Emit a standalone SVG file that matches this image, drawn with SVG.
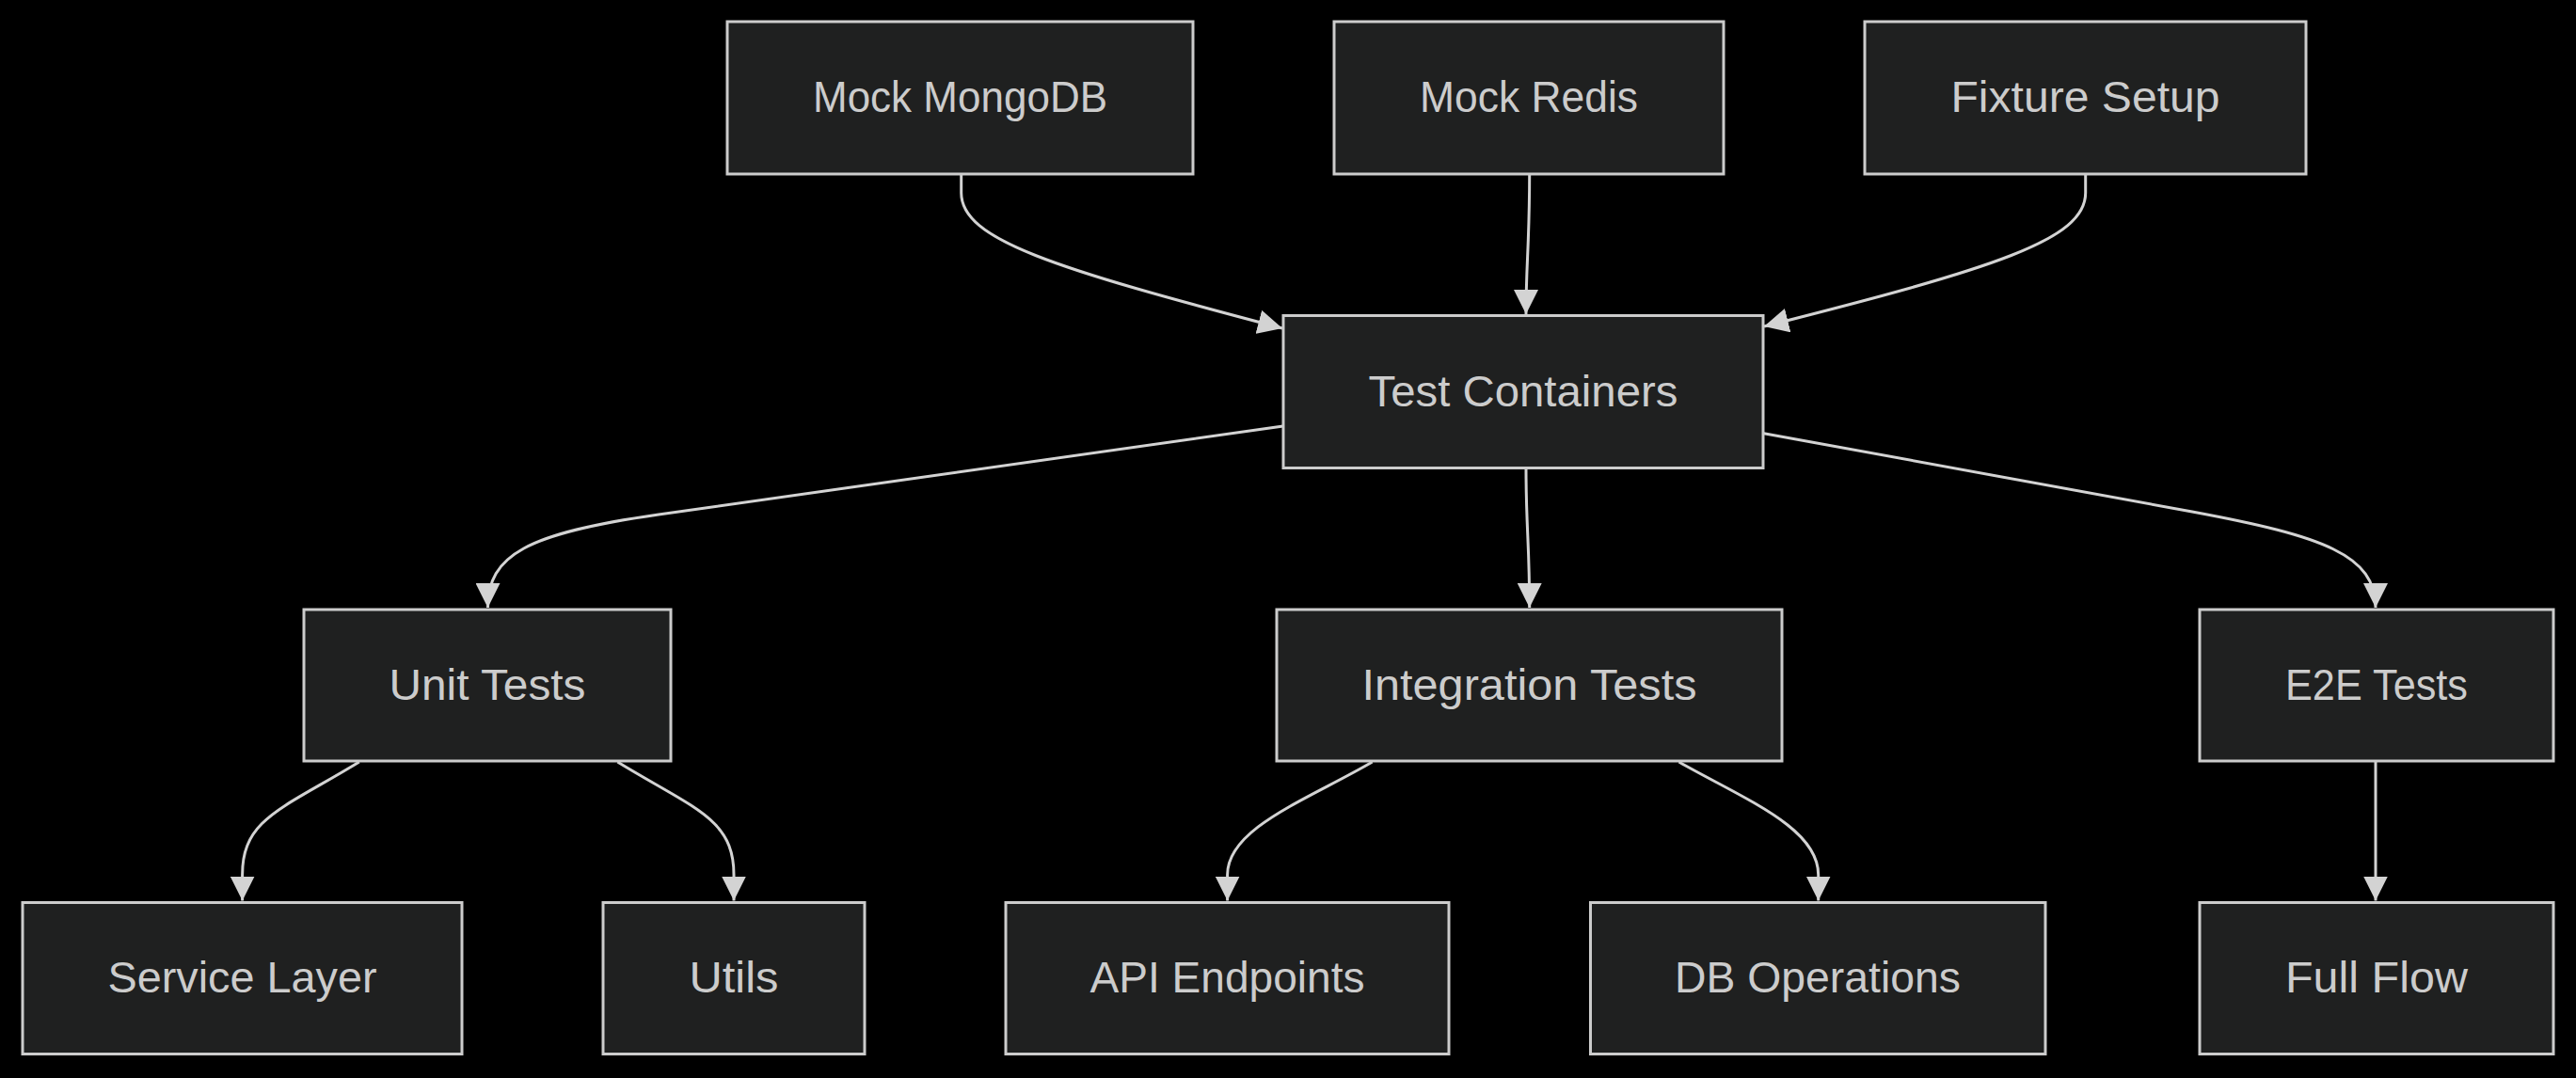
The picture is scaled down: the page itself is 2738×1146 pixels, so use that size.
<svg xmlns="http://www.w3.org/2000/svg" width="2738" height="1146" viewBox="0 0 2738 1146">
<style>
.bg{fill:#000000}
.node rect{fill:#1f2020;stroke:#cccccc;stroke-width:3}
.node text{fill:#cccccc;font-family:"Liberation Sans",Arial,sans-serif;font-size:46px;text-anchor:middle}
.edge{fill:none;stroke:#d3d3d3;stroke-width:3}
</style>
<defs>
<marker id="arrow" markerUnits="userSpaceOnUse" markerWidth="26" markerHeight="26" viewBox="0 0 10 10" refX="10" refY="5" orient="auto">
<path d="M0,0 L10,5 L0,10 z" fill="#d3d3d3"/>
</marker>
</defs>
<rect class="bg" x="0" y="0" width="2738" height="1146"/>
<g id="connectors">
<path class="edge" marker-end="url(#arrow)" d="M1021.7,185 L1021.7,205 C1021.7,255 1120,285 1363,349"/>
<path class="edge" marker-end="url(#arrow)" d="M1625.7,185 C1625.7,260 1622,280 1622,334"/>
<path class="edge" marker-end="url(#arrow)" d="M2216.7,185 L2216.7,205 C2216.7,255 2120,285 1875,347"/>
<path class="edge" marker-end="url(#arrow)" d="M1363.8,453 L700,547 C560,567 518.5,590 518.5,646"/>
<path class="edge" marker-end="url(#arrow)" d="M1622,498 C1622,560 1625.7,580 1625.7,646"/>
<path class="edge" marker-end="url(#arrow)" d="M1874.7,460.7 L2330,544 C2470,570 2525,590 2525,646"/>
<path class="edge" marker-end="url(#arrow)" d="M381.8,810 C300,860 257.6,870 257.6,930 L257.6,957.5"/>
<path class="edge" marker-end="url(#arrow)" d="M656.4,810 C738,860 780,870 780,930 L780,957.5"/>
<path class="edge" marker-end="url(#arrow)" d="M1458.6,810 C1390,850 1304.6,880 1304.6,930 L1304.6,957.5"/>
<path class="edge" marker-end="url(#arrow)" d="M1784.5,810 C1855,850 1932.7,880 1932.7,930 L1932.7,957.5"/>
<path class="edge" marker-end="url(#arrow)" d="M2525,809 L2525,957.5"/>
</g>
<g id="mock-mongodb" class="node"><rect x="773" y="23" width="495" height="162"/><text x="1020.5" y="119" textLength="313" lengthAdjust="spacingAndGlyphs">Mock MongoDB</text></g>
<g id="mock-redis" class="node"><rect x="1418" y="23" width="414" height="162"/><text x="1625" y="119" textLength="232" lengthAdjust="spacingAndGlyphs">Mock Redis</text></g>
<g id="fixture-setup" class="node"><rect x="1982" y="23" width="469" height="162"/><text x="2216.5" y="119" textLength="286" lengthAdjust="spacingAndGlyphs">Fixture Setup</text></g>
<g id="test-containers" class="node"><rect x="1364" y="335.5" width="510" height="162"/><text x="1619" y="431.5" textLength="329" lengthAdjust="spacingAndGlyphs">Test Containers</text></g>
<g id="unit-tests" class="node"><rect x="323" y="648" width="390" height="161"/><text x="518" y="743.5" textLength="209" lengthAdjust="spacingAndGlyphs">Unit Tests</text></g>
<g id="integration-tests" class="node"><rect x="1357" y="648" width="537" height="161"/><text x="1625.5" y="743.5" textLength="356" lengthAdjust="spacingAndGlyphs">Integration Tests</text></g>
<g id="e2e-tests" class="node"><rect x="2338" y="648" width="376" height="161"/><text x="2526" y="743.5" textLength="194" lengthAdjust="spacingAndGlyphs">E2E Tests</text></g>
<g id="service-layer" class="node"><rect x="24" y="959.5" width="467" height="161"/><text x="257.5" y="1055" textLength="286" lengthAdjust="spacingAndGlyphs">Service Layer</text></g>
<g id="utils" class="node"><rect x="641" y="959.5" width="278" height="161"/><text x="780" y="1055" textLength="95" lengthAdjust="spacingAndGlyphs">Utils</text></g>
<g id="api-endpoints" class="node"><rect x="1069" y="959.5" width="471" height="161"/><text x="1304.5" y="1055" textLength="292" lengthAdjust="spacingAndGlyphs">API Endpoints</text></g>
<g id="db-operations" class="node"><rect x="1690.5" y="959.5" width="483.5" height="161"/><text x="1932" y="1055" textLength="304" lengthAdjust="spacingAndGlyphs">DB Operations</text></g>
<g id="full-flow" class="node"><rect x="2338" y="959.5" width="376" height="161"/><text x="2526" y="1055" textLength="194" lengthAdjust="spacingAndGlyphs">Full Flow</text></g>
</svg>
